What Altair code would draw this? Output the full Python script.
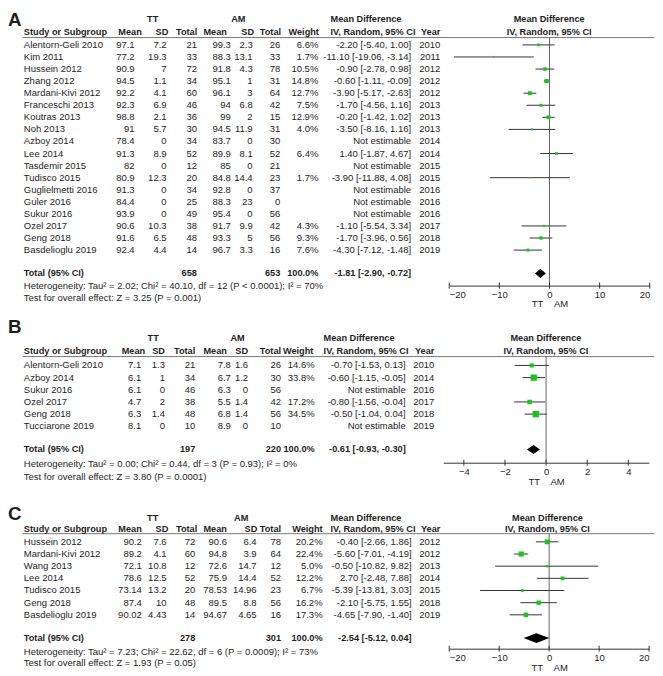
import altair as alt
import pandas as pd

FONT = "Liberation Sans, Arial"
FS = 9.6
FSB = 9.3
TXT = "#1e1e1e"
GREEN = "#17c617"

# ---------------- Panel A data ----------------
studies_A = ["Alentorn-Geli 2010", "Kim 2011", "Hussein 2012", "Zhang 2012", "Mardani-Kivi 2012",
             "Franceschi 2013", "Koutras 2013", "Noh 2013", "Azboy 2014", "Lee 2014", "Tasdemir 2015",
             "Tudisco 2015", "Guglielmetti 2016", "Guler 2016", "Sukur 2016", "Ozel 2017", "Geng 2018",
             "Basdelioglu 2019"]
tt_mean_A = [97.1, 77.2, 90.9, 94.5, 92.2, 92.3, 98.8, 91, 78.4, 91.3, 82, 80.9, 91.3, 84.4, 93.9, 90.6, 91.6, 92.4]
tt_sd_A = [7.2, 19.3, 7, 1.1, 4.1, 6.9, 2.1, 5.7, 0, 8.9, 0, 12.3, 0, 0, 0, 10.3, 6.5, 4.4]
tt_n_A = [21, 33, 72, 34, 60, 46, 36, 30, 34, 52, 12, 20, 34, 25, 49, 38, 48, 14]
am_mean_A = [99.3, 88.3, 91.8, 95.1, 96.1, 94, 99, 94.5, 83.7, 89.9, 85, 84.8, 92.8, 88.3, 95.4, 91.7, 93.3, 96.7]
am_sd_A = [2.3, 13.1, 4.3, 1, 3, 6.8, 2, 11.9, 0, 8.1, 0, 14.4, 0, 23, 0, 9.9, 5, 3.3]
am_n_A = [26, 33, 78, 31, 64, 42, 15, 31, 30, 52, 21, 23, 37, 0, 56, 42, 56, 16]
weight_A = [6.6, 1.7, 10.5, 14.8, 12.7, 7.5, 12.9, 4.0, None, 6.4, None, 1.7, None, None, None, 4.3, 9.3, 7.6]
md_A = [-2.20, -11.10, -0.90, -0.60, -3.90, -1.70, -0.20, -3.50, None, 1.40, None, -3.90, None, None, None, -1.10, -1.70, -4.30]
lo_A = [-5.40, -19.06, -2.78, -1.11, -5.17, -4.56, -1.42, -8.16, None, -1.87, None, -11.88, None, None, None, -5.54, -3.96, -7.12]
hi_A = [1.00, -3.14, 0.98, -0.09, -2.63, 1.16, 1.02, 1.16, None, 4.67, None, 4.08, None, None, None, 3.34, 0.56, -1.48]
year_A = [2010, 2011, 2012, 2012, 2012, 2013, 2013, 2013, 2014, 2014, 2015, 2015, 2016, 2016, 2016, 2017, 2018, 2019]
total_n_A = [658, 653]
total_md_A = [-1.81, -2.90, -0.72]
ticks_A = [-20, -10, 0, 10, 20]
het_A = "Heterogeneity: Tau² = 2.02; Chi² = 40.10, df = 12 (P < 0.0001); I² = 70%"
test_A = "Test for overall effect: Z = 3.25 (P = 0.001)"

# ---------------- Panel B data ----------------
studies_B = ["Alentorn-Geli 2010", "Azboy 2014", "Sukur 2016", "Ozel 2017", "Geng 2018", "Tucciarone 2019"]
tt_mean_B = [7.1, 6.1, 6.1, 4.7, 6.3, 8.1]
tt_sd_B = [1.3, 1, 0, 2, 1.4, 0]
tt_n_B = [21, 34, 46, 38, 48, 10]
am_mean_B = [7.8, 6.7, 6.3, 5.5, 6.8, 8.9]
am_sd_B = [1.6, 1.2, 0, 1.4, 1.4, 0]
am_n_B = [26, 30, 56, 42, 56, 10]
weight_B = [14.6, 33.8, None, 17.2, 34.5, None]
md_B = [-0.70, -0.60, None, -0.80, -0.50, None]
lo_B = [-1.53, -1.15, None, -1.56, -1.04, None]
hi_B = [0.13, -0.05, None, -0.04, 0.04, None]
year_B = [2010, 2014, 2016, 2017, 2018, 2019]
total_n_B = [197, 220]
total_md_B = [-0.61, -0.93, -0.30]
ticks_B = [-4, -2, 0, 2, 4]
het_B = "Heterogeneity: Tau² = 0.00; Chi² = 0.44, df = 3 (P = 0.93); I² = 0%"
test_B = "Test for overall effect: Z = 3.80 (P = 0.0001)"

# ---------------- Panel C data ----------------
studies_C = ["Hussein 2012", "Mardani-Kivi 2012", "Wang 2013", "Lee 2014", "Tudisco 2015", "Geng 2018",
             "Basdelioglu 2019"]
tt_mean_C = [90.2, 89.2, 72.1, 78.6, 73.14, 87.4, 90.02]
tt_sd_C = [7.6, 4.1, 10.8, 12.5, 13.2, 10, 4.43]
tt_n_C = [72, 60, 12, 52, 20, 48, 14]
am_mean_C = [90.6, 94.8, 72.6, 75.9, 78.53, 89.5, 94.67]
am_sd_C = [6.4, 3.9, 14.7, 14.4, 14.96, 8.8, 4.65]
am_n_C = [78, 64, 12, 52, 23, 56, 16]
weight_C = [20.2, 22.4, 5.0, 12.2, 6.7, 16.2, 17.3]
md_C = [-0.40, -5.60, -0.50, 2.70, -5.39, -2.10, -4.65]
lo_C = [-2.66, -7.01, -10.82, -2.48, -13.81, -5.75, -7.90]
hi_C = [1.86, -4.19, 9.82, 7.88, 3.03, 1.55, -1.40]
year_C = [2012, 2012, 2013, 2014, 2015, 2018, 2019]
total_n_C = [278, 301]
total_md_C = [-2.54, -5.12, 0.04]
ticks_C = [-20, -10, 0, 10, 20]
het_C = "Heterogeneity: Tau² = 7.23; Chi² = 22.62, df = 6 (P = 0.0009); I² = 73%"
test_C = "Test for overall effect: Z = 1.93 (P = 0.05)"


def fmt(v):
    return f"{v:g}"


def make_df(studies, ttm, tts, ttn, amm, ams, amn, w, md, lo, hi, yr):
    rows = []
    for i in range(len(studies)):
        est = md[i] is not None
        rows.append(dict(
            r=i, study=studies[i], ttm=fmt(ttm[i]), tts=fmt(tts[i]), ttn=str(ttn[i]),
            amm=fmt(amm[i]), ams=fmt(ams[i]), amn=str(amn[i]),
            w=(f"{w[i]:.1f}%" if est else ""), wv=(w[i] if est else 0.0),
            mdt=(f"{md[i]:.2f} [{lo[i]:.2f}, {hi[i]:.2f}]" if est else "Not estimable"),
            md=(md[i] if est else 0.0), lo=(lo[i] if est else 0.0), hi=(hi[i] if est else 0.0),
            est=est, yr=str(yr[i])))
    return pd.DataFrame(rows)


def panel(df, tot_n, tot_md, ticks, het, test, letter, g):
    ys = alt.Scale(domain=[g["rtop"], g["rbot"]], reverse=True, nice=False, zero=False)
    xs = alt.Scale(domain=g["xdom"], range=g["xrange"], nice=False, zero=False)
    ax = alt.Axis(values=ticks, title="TT\u00a0\u00a0\u00a0\u00a0AM", ticks=False, labelPadding=4,
                  titlePadding=0, labelFont=FONT, labelFontSize=FS, titleFont=FONT, titleFontSize=FS,
                  titleFontWeight="normal", domainColor="#333", labelColor=TXT,
                  titleColor=TXT, grid=False, labelFlush=True)
    one = alt.Data(values=[{"k": 0}])

    def T(text, x, r, align="left", bold=False, size=None, baseline="middle"):
        if size is None:
            size = FSB if bold else FS
        return alt.Chart(one).mark_text(
            text=text, align=align, baseline=baseline, font=FONT, fontSize=size,
            fontWeight="bold" if bold else "normal", color=TXT
        ).encode(x=alt.value(x), y=alt.Y(datum=r, scale=ys, axis=None))

    def col(field, x, align="right"):
        return alt.Chart(df).mark_text(
            align=align, baseline="middle", font=FONT, fontSize=FS, color=TXT
        ).encode(x=alt.value(x), y=alt.Y("r:Q", scale=ys, axis=None), text=f"{field}:N")

    est = df[df["est"]]
    layers = []
    # header line
    layers.append(alt.Chart(one).mark_rule(color="#777", strokeWidth=1).encode(
        x=alt.value(15), x2=alt.value(g["W"]), y=alt.Y(datum=g["rline"], scale=ys, axis=None)))
    # zero line
    layers.append(alt.Chart(one).mark_rule(color="#666", strokeWidth=1).encode(
        x=alt.X(datum=0, scale=xs, axis=ax), y=alt.Y(datum=g["rline"], scale=ys, axis=None),
        y2=alt.Y2(datum=g["rbot"])))
    # crossing tick marks on the axis
    tk = pd.DataFrame({"t": ticks})
    layers.append(alt.Chart(tk).mark_rule(color="#333", strokeWidth=1).encode(
        x=alt.X("t:Q", scale=xs, axis=ax),
        y=alt.Y(datum=g["rbot"] - g["tk"], scale=ys, axis=None),
        y2=alt.Y2(datum=g["rbot"] + g["tk"])))
    # CI lines
    layers.append(alt.Chart(est).mark_rule(color="#333", strokeWidth=1).encode(
        x=alt.X("lo:Q", scale=xs, axis=ax), x2="hi:Q", y=alt.Y("r:Q", scale=ys, axis=None)))
    # squares
    layers.append(alt.Chart(est).mark_square(color=GREEN, opacity=1, filled=True).encode(
        x=alt.X("md:Q", scale=xs, axis=ax), y=alt.Y("r:Q", scale=ys, axis=None),
        size=alt.Size("wv:Q", scale=alt.Scale(domain=[0, 100], range=[0, 100 * g["k"]]), legend=None)))
    # diamond
    rt = g["rtot"]
    h = g["dh"]
    dia = pd.DataFrame({"x": [tot_md[1], tot_md[0], tot_md[2]],
                        "y": [rt, rt - h, rt], "y2": [rt, rt + h, rt]})
    layers.append(alt.Chart(dia).mark_area(color="black", orient="vertical", opacity=1).encode(
        x=alt.X("x:Q", scale=xs, axis=ax), y=alt.Y("y:Q", scale=ys, axis=None), y2="y2:Q"))

    # letter
    layers.append(T(letter, 0, g["rletter"], bold=True, size=19, baseline="top"))
    # headers
    c = g["cols"]
    hc = g["hcols"]
    r1, r2 = g["rh1"], g["rh2"]
    layers += [
        T("TT", g["tt_c"], r1, "center", True), T("AM", g["am_c"], r1, "center", True),
        T("Mean Difference", g["mdh"], r1, "left", True),
        T("Mean Difference", g["fh"], r1, "center", True),
        T("Study or Subgroup", 16, r2, "left", True),
        T("Mean", hc[0], r2, "right", True), T("SD", hc[1], r2, "right", True),
        T("Total", hc[2], r2, "right", True), T("Mean", hc[3], r2, "right", True),
        T("SD", hc[4], r2, "right", True), T("Total", hc[5], r2, "right", True),
        T("Weight", hc[6], r2, "right", True),
        T("IV, Random, 95% CI", g["mdh"], r2, "left", True),
        T("Year", g["yr"], r2, "right", True),
        T("IV, Random, 95% CI", g["fh"], r2, "center", True),
    ]
    # table columns
    layers.append(col("study", 16, "left"))
    for f, x in zip(["ttm", "tts", "ttn", "amm", "ams", "amn", "w"], c):
        layers.append(col(f, x))
    layers.append(col("mdt", g["mdv"]))
    layers.append(col("yr", g["yr"]))
    # total row
    layers += [
        T("Total (95% CI)", 16, rt, "left", True),
        T(str(tot_n[0]), c[2], rt, "right", True),
        T(str(tot_n[1]), c[5], rt, "right", True),
        T("100.0%", c[6], rt, "right", True),
        T(f"{tot_md[0]:.2f} [{tot_md[1]:.2f}, {tot_md[2]:.2f}]", g["mdv"], rt, "right", True),
        T(het, 16, g["rhet"], "left"),
        T(test, 16, g["rtest"], "left"),
    ]
    return alt.layer(*layers).properties(width=g["W"], height=g["H"])


W = 653
dfA = make_df(studies_A, tt_mean_A, tt_sd_A, tt_n_A, am_mean_A, am_sd_A, am_n_A, weight_A, md_A, lo_A, hi_A, year_A)
dfB = make_df(studies_B, tt_mean_B, tt_sd_B, tt_n_B, am_mean_B, am_sd_B, am_n_B, weight_B, md_B, lo_B, hi_B, year_B)
dfC = make_df(studies_C, tt_mean_C, tt_sd_C, tt_n_C, am_mean_C, am_sd_C, am_n_C, weight_C, md_C, lo_C, hi_C, year_C)

gA = dict(W=W, H=277, rtop=-2.762, rbot=19.943, xdom=[-20, 20], xrange=[446, 648.7], tk=0.25,
          rline=-0.607, rh1=-2.13, rh2=-1.10, rletter=-2.762, rtot=18.93, rhet=19.97, rtest=20.95, dh=0.38, k=1.2,
          tt_c=146.3, am_c=232.8, hcols=[135.3, 162, 191.3, 221.3, 248.7, 276, 314.3],
          cols=[128, 160.3, 191, 225.3, 247.3, 275.3, 313.7], mdh=326, mdv=407.5, yr=437, fh=547)
gB = dict(W=W, H=179, rtop=-6.561, rbot=7.992, xdom=[-5, 5], xrange=[440, 647.8], tk=0.24,
          rline=-0.73, rh1=-2.25, rh2=-1.22, rletter=-3.90, rtot=6.91, rhet=8.07, rtest=9.13, dh=0.37, k=0.8,
          tt_c=146.7, am_c=232, hcols=[138.7, 158.7, 189.3, 221.3, 242.7, 276, 308.7],
          cols=[134.7, 158.7, 189.3, 225.3, 242.7, 276, 310], mdh=319, mdv=402, yr=431, fh=543.7)
gC = dict(W=W, H=188, rtop=-6.504, rbot=8.781, xdom=[-20, 20], xrange=[446, 648], tk=0.24,
          rline=-0.67, rh1=-1.93, rh2=-1.03, rletter=-3.03, rtot=7.91, rhet=9.08, rtest=9.94, dh=0.40, k=1.1,
          tt_c=146.3, am_c=235.7, hcols=[135.3, 162, 191.3, 221.3, 252, 276, 318],
          cols=[135.3, 160.3, 189.3, 221.3, 251.3, 276, 318], mdh=326, mdv=408, yr=437, fh=545.3)

pA = panel(dfA, total_n_A, total_md_A, ticks_A, het_A, test_A, "A", gA)
pB = panel(dfB, total_n_B, total_md_B, ticks_B, het_B, test_B, "B", gB)
pC = panel(dfC, total_n_C, total_md_C, ticks_C, het_C, test_C, "C", gC)

chart = alt.vconcat(pA, pB, pC, spacing=0, bounds="flush").properties(padding=0).configure_view(stroke=None)

chart.save("out.html", embed_options={"renderer": "svg", "actions": False})
